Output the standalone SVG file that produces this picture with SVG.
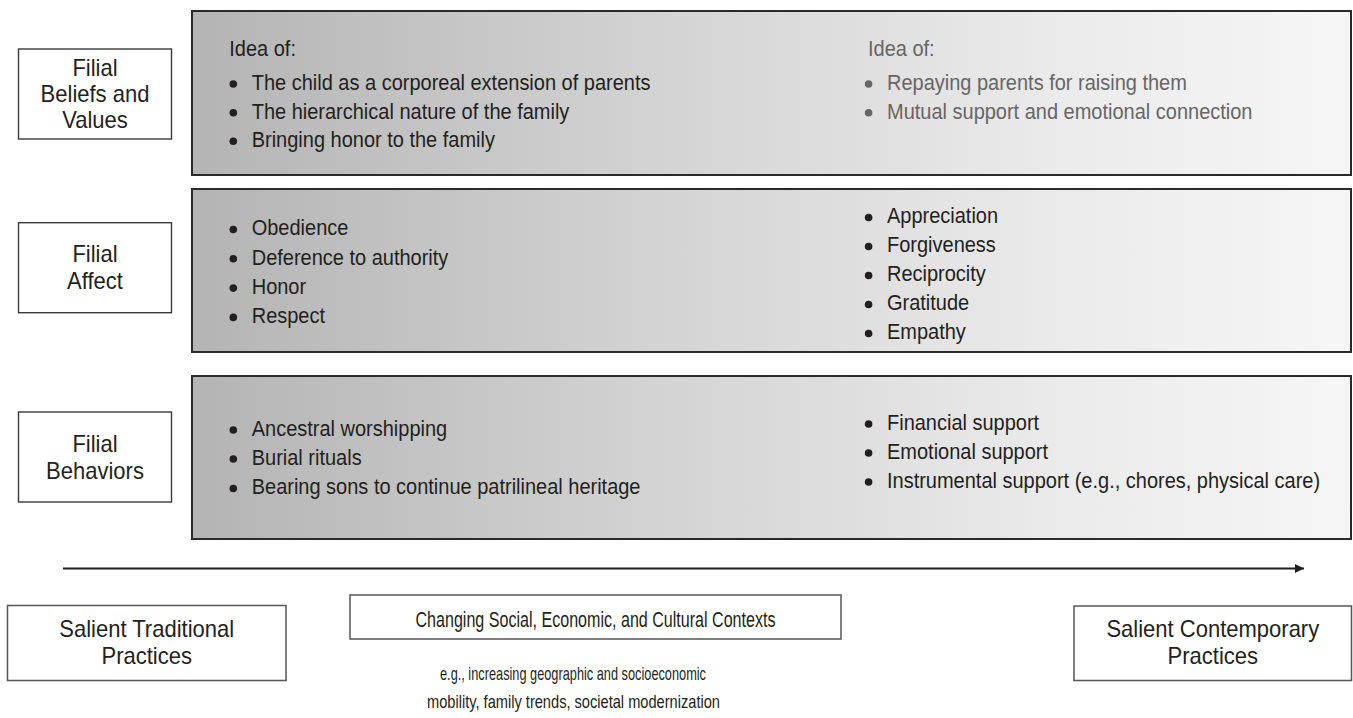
<svg xmlns="http://www.w3.org/2000/svg" width="1353" height="718" viewBox="0 0 1353 718">
<defs>
<linearGradient id="bandFill" x1="0" y1="0" x2="1" y2="0">
<stop offset="0" stop-color="#b4b4b4"/>
<stop offset="0.4" stop-color="#d3d3d3"/>
<stop offset="0.75" stop-color="#ebebeb"/>
<stop offset="1" stop-color="#f6f6f6"/>
</linearGradient>
<marker id="arrowHead" markerUnits="userSpaceOnUse" markerWidth="10" markerHeight="10" refX="9" refY="4.5" orient="auto">
<path d="M0,0 L9,4.5 L0,9 Z" fill="#231f20"/>
</marker>
<style>
.band{fill:url(#bandFill);stroke:#2a2a2a;stroke-width:2}
.lbl{fill:#ffffff;stroke:#3a3a3a;stroke-width:1.4}
.ctx{fill:#ffffff;stroke:#555555;stroke-width:1.5}
.t{font-family:"Liberation Sans",Arial,sans-serif;font-size:22.5px;fill:#231f20}
.tg{font-family:"Liberation Sans",Arial,sans-serif;font-size:22.5px;fill:#666666}
.lt{font-family:"Liberation Sans",Arial,sans-serif;font-size:23px;fill:#231f20;text-anchor:middle}
.ct{font-family:"Liberation Sans",Arial,sans-serif;font-size:22px;fill:#231f20;text-anchor:middle}
.et{font-family:"Liberation Sans",Arial,sans-serif;font-size:19px;fill:#231f20;text-anchor:middle}
.dot{fill:#231f20}
.dotg{fill:#666666}
.conn{stroke:#231f20;stroke-width:1.8;fill:none}
</style>
</defs>

<!-- Band 1: Beliefs and values -->
<g id="band-beliefs">
<rect class="band" x="192" y="11" width="1159" height="164"/>
<g transform="translate(229.3 0) scale(0.889 1)"><text class="t" x="0" y="56">Idea of:</text></g>
<circle class="dot" cx="233.3" cy="84" r="3.8"/>
<circle class="dot" cx="233.3" cy="112.7" r="3.8"/>
<circle class="dot" cx="233.3" cy="141.3" r="3.8"/>
<g transform="translate(251.7 0) scale(0.889 1)">
<text class="t" x="0" y="90">The child as a corporeal extension of parents</text>
<text class="t" x="0" y="118.7">The hierarchical nature of the family</text>
<text class="t" x="0" y="147.3">Bringing honor to the family</text>
</g>
<g transform="translate(868 0) scale(0.889 1)"><text class="tg" x="0" y="56">Idea of:</text></g>
<circle class="dotg" cx="868.6" cy="84" r="3.8"/>
<circle class="dotg" cx="868.6" cy="112.7" r="3.8"/>
<g transform="translate(887 0) scale(0.889 1)">
<text class="tg" x="0" y="90">Repaying parents for raising them</text>
<text class="tg" x="0" y="118.7">Mutual support and emotional connection</text>
</g>
</g>

<!-- Band 2: Affect -->
<g id="band-affect">
<rect class="band" x="192" y="189" width="1159" height="163"/>
<circle class="dot" cx="233.3" cy="229.5" r="3.8"/>
<circle class="dot" cx="233.3" cy="258.8" r="3.8"/>
<circle class="dot" cx="233.3" cy="288.1" r="3.8"/>
<circle class="dot" cx="233.3" cy="317.4" r="3.8"/>
<g transform="translate(251.7 0) scale(0.889 1)">
<text class="t" x="0" y="235.5">Obedience</text>
<text class="t" x="0" y="264.8">Deference to authority</text>
<text class="t" x="0" y="294.1">Honor</text>
<text class="t" x="0" y="323.4">Respect</text>
</g>
<circle class="dot" cx="868.6" cy="217.5" r="3.8"/>
<circle class="dot" cx="868.6" cy="246.5" r="3.8"/>
<circle class="dot" cx="868.6" cy="275.5" r="3.8"/>
<circle class="dot" cx="868.6" cy="304.5" r="3.8"/>
<circle class="dot" cx="868.6" cy="333.5" r="3.8"/>
<g transform="translate(887 0) scale(0.889 1)">
<text class="t" x="0" y="223.5">Appreciation</text>
<text class="t" x="0" y="252.5">Forgiveness</text>
<text class="t" x="0" y="281.5">Reciprocity</text>
<text class="t" x="0" y="310.5">Gratitude</text>
<text class="t" x="0" y="339.5">Empathy</text>
</g>
</g>

<!-- Band 3: Behaviors -->
<g id="band-behaviors">
<rect class="band" x="192" y="376" width="1159" height="163"/>
<circle class="dot" cx="233.3" cy="430" r="3.8"/>
<circle class="dot" cx="233.3" cy="459" r="3.8"/>
<circle class="dot" cx="233.3" cy="488.5" r="3.8"/>
<g transform="translate(251.7 0) scale(0.889 1)">
<text class="t" x="0" y="436">Ancestral worshipping</text>
<text class="t" x="0" y="465">Burial rituals</text>
<text class="t" x="0" y="494.5">Bearing sons to continue patrilineal heritage</text>
</g>
<circle class="dot" cx="868.6" cy="424" r="3.8"/>
<circle class="dot" cx="868.6" cy="453" r="3.8"/>
<circle class="dot" cx="868.6" cy="482" r="3.8"/>
<g transform="translate(887 0) scale(0.889 1)">
<text class="t" x="0" y="430">Financial support</text>
<text class="t" x="0" y="459">Emotional support</text>
<text class="t" x="0" y="488">Instrumental support (e.g., chores, physical care)</text>
</g>
</g>

<!-- Row labels -->
<g id="label-beliefs">
<rect class="lbl" x="18.5" y="49" width="153" height="90"/>
<g transform="translate(95 0) scale(0.957 1)">
<text class="lt" x="0" y="76.3">Filial</text>
<text class="lt" x="0" y="102.3">Beliefs and</text>
<text class="lt" x="0" y="128.3">Values</text>
</g>
</g>
<g id="label-affect">
<rect class="lbl" x="18.5" y="222.7" width="153" height="90"/>
<g transform="translate(95 0) scale(0.957 1)">
<text class="lt" x="0" y="262">Filial</text>
<text class="lt" x="0" y="288.6">Affect</text>
</g>
</g>
<g id="label-behaviors">
<rect class="lbl" x="18.5" y="412" width="153" height="90"/>
<g transform="translate(95 0) scale(0.957 1)">
<text class="lt" x="0" y="452">Filial</text>
<text class="lt" x="0" y="478.6">Behaviors</text>
</g>
</g>

<!-- Bottom context boxes -->
<g id="traditional">
<rect class="ctx" x="7.5" y="605.5" width="278.5" height="75"/>
<g transform="translate(146.7 0) scale(0.957 1)">
<text class="lt" x="0" y="637">Salient Traditional</text>
<text class="lt" x="0" y="664">Practices</text>
</g>
</g>
<g id="changing">
<rect class="ctx" x="350" y="595" width="491" height="44"/>
<text class="ct" x="595.5" y="626.5" textLength="360" lengthAdjust="spacingAndGlyphs">Changing Social, Economic, and Cultural Contexts</text>
<text class="et" x="573" y="679.5" textLength="266" lengthAdjust="spacingAndGlyphs">e.g., increasing geographic and socioeconomic</text>
<text class="et" x="573.5" y="707.5" textLength="293" lengthAdjust="spacingAndGlyphs">mobility, family trends, societal modernization</text>
</g>
<g id="contemporary">
<rect class="ctx" x="1074" y="606" width="277.5" height="74.5"/>
<g transform="translate(1212.8 0) scale(0.957 1)">
<text class="lt" x="0" y="637.5">Salient Contemporary</text>
<text class="lt" x="0" y="664.5">Practices</text>
</g>
</g>

<!-- Connectors -->
<g id="connectors">
<line class="conn" x1="63" y1="568.5" x2="1304" y2="568.5" marker-end="url(#arrowHead)"/>
</g>
</svg>
